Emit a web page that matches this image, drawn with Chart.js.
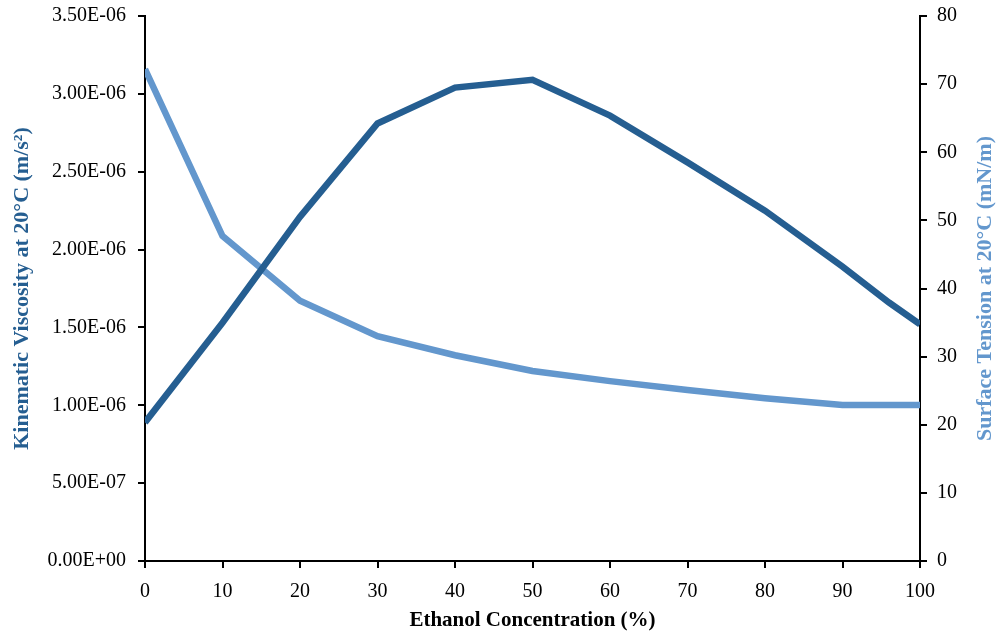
<!DOCTYPE html>
<html>
<head>
<meta charset="utf-8">
<script src="https://cdn.jsdelivr.net/npm/chart.js@4.4.0/dist/chart.umd.min.js"></script>
<style>
  body { margin: 0; background: #fff; }
  #wrap { width: 997px; height: 637px; }
</style>
</head>
<body>
<div id="wrap"><canvas id="chart" width="997" height="637"></canvas></div>
<script>
// datos
const concentration = [0, 10, 20, 30, 40, 50, 60, 70, 80, 90, 96, 100];
const viscosity = [0.89e-6, 1.53e-6, 2.21e-6, 2.81e-6, 3.04e-6, 3.09e-6, 2.86e-6, 2.56e-6, 2.25e-6, 1.89e-6, 1.66e-6, 1.52e-6];
const tensionX = [0, 10, 20, 30, 40, 50, 60, 70, 80, 90, 100];
const tension = [72.2, 47.7, 38.2, 33.0, 30.2, 27.9, 26.4, 25.1, 23.9, 22.9, 22.9];
const leftTicks = [0, 5e-7, 1e-6, 1.5e-6, 2e-6, 2.5e-6, 3e-6, 3.5e-6];

const dark = '#255E91';
const light = '#6397CD';
const family = '"Liberation Serif", "Times New Roman", serif';
const font = { family: family, size: 20 };
const titleFont = { family: family, size: 21, weight: 'bold' };
const sideTitleFont = { family: family, size: 22, weight: 'bold' };
const rightTitle = 'Surface Tension at 20°C (mN/m)';

function sci(v) {
  if (Math.abs(v) < 1e-12) return '0.00E+00';
  let e = Math.floor(Math.log10(Math.abs(v)) + 1e-9);
  let m = v / Math.pow(10, e);
  const sign = e < 0 ? '-' : '+';
  const ex = String(Math.abs(e)).padStart(2, '0');
  return m.toFixed(2) + 'E' + sign + ex;
}

// título del eje derecho, leído de abajo hacia arriba como en el original
const rightTitlePlugin = {
  id: 'rightTitle',
  afterDraw(chart) {
    const ctx = chart.ctx;
    const area = chart.chartArea;
    ctx.save();
    ctx.translate(985, (area.top + area.bottom) / 2);
    ctx.rotate(-Math.PI / 2);
    ctx.font = 'bold 22px ' + family;
    ctx.fillStyle = light;
    ctx.textAlign = 'center';
    ctx.textBaseline = 'middle';
    ctx.fillText(rightTitle, 0, 0);
    ctx.restore();
  }
};

const axisGrid = { drawOnChartArea: false, drawTicks: true, tickLength: 7, color: '#000', lineWidth: 2 };
const axisBorder = { color: '#000', width: 2 };

new Chart(document.getElementById('chart').getContext('2d'), {
  type: 'line',
  data: {
    datasets: [
      {
        label: 'Kinematic Viscosity',
        data: concentration.map((x, i) => ({ x: x, y: viscosity[i] })),
        borderColor: dark,
        borderWidth: 6.5,
        pointRadius: 0,
        tension: 0,
        yAxisID: 'y'
      },
      {
        label: 'Surface Tension',
        data: tensionX.map((x, i) => ({ x: x, y: tension[i] })),
        borderColor: light,
        borderWidth: 6.5,
        pointRadius: 0,
        tension: 0,
        yAxisID: 'y1'
      }
    ]
  },
  options: {
    responsive: false,
    animation: false,
    layout: { padding: { top: 16, left: 0, right: 0, bottom: 0 } },
    plugins: { legend: { display: false }, tooltip: { enabled: false } },
    scales: {
      x: {
        type: 'linear',
        min: 0, max: 100,
        ticks: { stepSize: 10, color: '#000', font: font, padding: 12, maxRotation: 0 },
        grid: axisGrid,
        border: axisBorder,
        title: { display: true, text: 'Ethanol Concentration (%)', color: '#000', font: titleFont, padding: { top: 4 } },
        afterFit: s => { s.height = 76; }
      },
      y: {
        position: 'left',
        min: 0, max: 3.5e-6,
        afterBuildTicks: s => { s.ticks = leftTicks.map(v => ({ value: v })); },
        ticks: { color: '#000', font: font, padding: 12, callback: v => sci(v) },
        grid: axisGrid,
        border: axisBorder,
        title: { display: true, text: 'Kinematic Viscosity at 20°C (m/s²)', color: dark, font: sideTitleFont, padding: { top: 9, bottom: 0 } },
        afterFit: s => { s.width = 145; s.paddingTop = 0; s.paddingBottom = 0; }
      },
      y1: {
        position: 'right',
        min: 0, max: 80,
        ticks: { stepSize: 10, color: '#000', font: font, padding: 10 },
        grid: axisGrid,
        border: axisBorder,
        title: { display: false },
        afterFit: s => { s.width = 77; s.paddingTop = 0; s.paddingBottom = 0; }
      }
    }
  },
  plugins: [rightTitlePlugin]
});
</script>
</body>
</html>
